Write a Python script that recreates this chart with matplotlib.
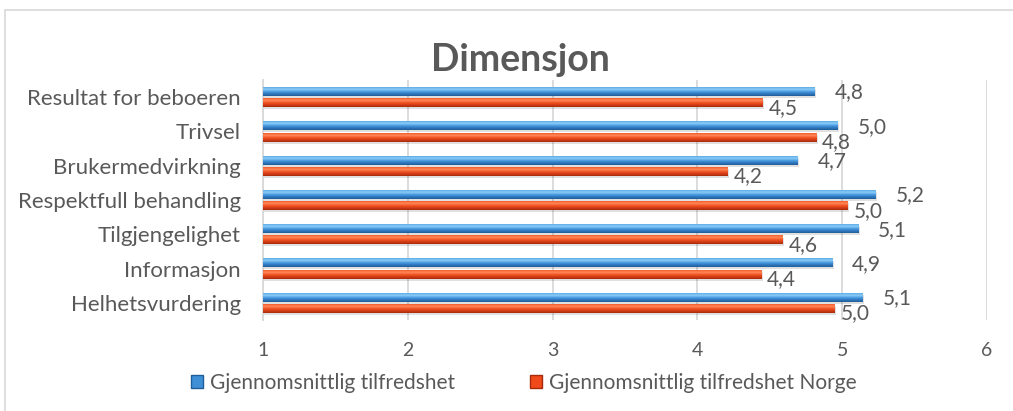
import numpy as np
import matplotlib
matplotlib.use("Agg")
import matplotlib.pyplot as plt
from matplotlib.colors import LinearSegmentedColormap
from matplotlib.patches import Rectangle

plt.rcParams["font.family"] = ["Lato", "DejaVu Sans"]

# data (top to bottom as shown in the chart)
categories = ["Resultat for beboeren", "Trivsel", "Brukermedvirkning",
              "Respektfull behandling", "Tilgjengelighet", "Informasjon",
              "Helhetsvurdering"]
snitt = [4.81, 4.97, 4.69, 5.23, 5.11, 4.93, 5.14]
snitt_norge = [4.45, 4.82, 4.21, 5.04, 4.59, 4.44, 4.95]
series_names = ["Gjennomsnittlig tilfredshet", "Gjennomsnittlig tilfredshet Norge"]
x_ticks = [1, 2, 3, 4, 5, 6]

text_col = "#595959"
blue_cmap = LinearSegmentedColormap.from_list(
    "b", ["#1f5d96", "#2f78bf", "#4a9de2", "#8fcdf6", "#5aaae8"])
red_cmap = LinearSegmentedColormap.from_list(
    "r", ["#a82a0c", "#d23d14", "#f35525", "#ff8a5a", "#f45a2a"])

fig = plt.figure(figsize=(10.13, 4.11), dpi=100)
# outer chart frame
fig.patches.append(Rectangle((5 / 1013, -0.05), 1.1, 1 - 10 / 411 + 0.05,
                             transform=fig.transFigure, fill=False,
                             edgecolor="#d9d9d9", linewidth=1.2))

ax = fig.add_axes([263 / 1013, 1 - 320 / 411, (987 - 263) / 1013, 240 / 411])

n = len(categories)
ypos = np.arange(n)[::-1]
h = 0.26
off = 0.165
grad = np.linspace(0, 1, 64).reshape(-1, 1)

for y, vb, vr in zip(ypos, snitt, snitt_norge):
    for v, yc, cmap in ((vb, y + off, blue_cmap), (vr, y - off, red_cmap)):
        # soft shadow under the bar
        ax.add_patch(Rectangle((1, yc - h / 2 - 0.06), v - 1 + 0.01, h,
                               facecolor="#000000", alpha=0.12, linewidth=0,
                               zorder=2))
        ax.imshow(grad, cmap=cmap, aspect="auto", origin="lower",
                  extent=[1, v, yc - h / 2, yc + h / 2], zorder=3,
                  interpolation="bilinear")
    ax.annotate(f"{vb:.1f}".replace(".", ","), (vb, y + off),
                xytext=(20, -1), textcoords="offset pixels",
                va="center", ha="left", fontsize=15, color=text_col, zorder=4)
    ax.annotate(f"{vr:.1f}".replace(".", ","), (vr, y - off),
                xytext=(6, -5), textcoords="offset pixels",
                va="center", ha="left", fontsize=15, color=text_col, zorder=4)

ax.set_xlim(1, 6)
ax.set_ylim(-0.5, n - 0.5)
ax.set_xticks(x_ticks)
ax.set_xticklabels([str(t) for t in x_ticks])
ax.set_yticks(ypos)
ax.set_yticklabels(categories)
ax.tick_params(axis="x", length=0, pad=16, labelsize=14, labelcolor=text_col)
ax.tick_params(axis="y", length=0, pad=16, labelsize=16, labelcolor=text_col)
ax.grid(axis="x", color="#d9d9d9", linewidth=1.3, zorder=0)
ax.set_axisbelow(True)
for side in ("top", "right", "bottom"):
    ax.spines[side].set_visible(False)
ax.spines["left"].set_color("#d9d9d9")
ax.spines["left"].set_linewidth(1.3)

fig.text(520 / 1013, 1 - 60 / 411, "Dimensjon", ha="center", va="center",
         fontsize=27, fontweight="bold", color=text_col)

# legend
handles = [Rectangle((0, 0), 1, 1, facecolor="#3f8fd6", edgecolor="#1f5d96"),
           Rectangle((0, 0), 1, 1, facecolor="#f04a1a", edgecolor="#a82a0c")]
fig.legend(handles, series_names, loc="center", ncol=2,
           bbox_to_anchor=(524 / 1013, 1 - 383 / 411), frameon=False,
           fontsize=15, labelcolor=text_col, handlelength=0.55,
           handleheight=0.55, handletextpad=0.35, columnspacing=3.6)

fig.savefig("out.png", dpi=100)
